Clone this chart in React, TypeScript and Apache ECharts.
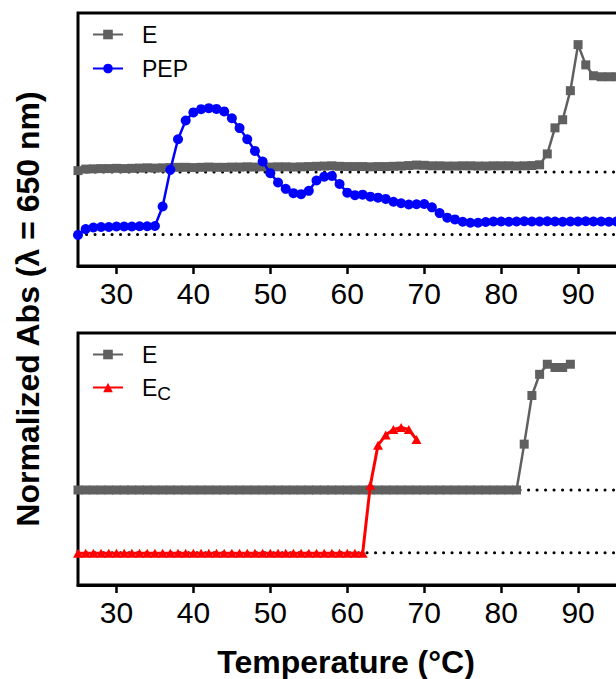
import React, { useEffect, useRef } from "react";
import * as echarts from "echarts";

const FONT = '"Liberation Sans", Arial, Helvetica, sans-serif';

// x ticks and tick labels
const xTicks = [30, 40, 50, 60, 70, 80, 90];
const xTickLabels = [30, 40, 50, 60, 70, 80, 90];
const xRange = [25, 100];

// ---------- Top panel ----------
const tempTop = [
  25, 26, 27, 28, 29, 30, 31, 32, 33, 34, 35, 36, 37, 38, 39, 40, 41, 42, 43, 44, 45, 46, 47, 48,
  49, 50, 51, 52, 53, 54, 55, 56, 57, 58, 59, 60, 61, 62, 63, 64, 65, 66, 67, 68, 69, 70, 71, 72,
  73, 74, 75, 76, 77, 78, 79, 80, 81, 82, 83, 84, 85, 86, 87, 88, 89, 90, 91, 92, 93, 94, 95,
];
const eTop = [
  37.7, 38.3, 38.4, 38.5, 38.5, 38.6, 38.5, 38.6, 38.7, 38.8, 38.7, 38.8, 38.9, 39.0, 39.0, 38.9,
  39.0, 39.1, 39.0, 39.0, 39.1, 39.1, 39.2, 39.1, 39.2, 39.1, 39.2, 39.2, 39.1, 39.2, 39.3, 39.4,
  39.5, 39.6, 39.4, 39.3, 39.3, 39.3, 39.2, 39.3, 39.3, 39.4, 39.5, 39.7, 39.9, 39.8, 39.6, 39.6,
  39.5, 39.5, 39.6, 39.6, 39.5, 39.5, 39.6, 39.6, 39.6, 39.5, 39.6, 39.7, 40.0, 44.3, 54.6, 57.8,
  69.3, 87.5, 79.5, 75.2, 74.8, 74.8, 74.8,
];
const pepTop = [
  12.3, 14.6, 15.2, 15.4, 15.4, 15.6, 15.6, 15.6, 15.7, 15.7, 15.8, 23.5, 38.0, 50.1, 57.5, 60.7,
  62.0, 62.4, 62.1, 61.1, 58.4, 54.5, 50.1, 45.5, 41.3, 36.7, 33.0, 30.5, 28.8, 28.4, 29.7, 33.8,
  35.3, 35.6, 32.4, 29.0, 28.0, 28.2, 27.4, 27.0, 26.5, 25.4, 24.8, 24.3, 24.4, 24.5, 23.2, 20.9,
  19.1, 18.4, 17.5, 17.1, 17.1, 17.4, 17.6, 17.6, 17.5, 17.6, 17.7, 17.6, 17.6, 17.7, 17.6, 17.5,
  17.6, 17.6, 17.7, 17.6, 17.6, 17.5, 17.6,
];
const baseTop = [37.2, 12.5]; // dotted reference levels: E, PEP

// ---------- Bottom panel ----------
const tempBottomE = [
  25, 26, 27, 28, 29, 30, 31, 32, 33, 34, 35, 36, 37, 38, 39, 40, 41, 42, 43, 44, 45, 46, 47, 48,
  49, 50, 51, 52, 53, 54, 55, 56, 57, 58, 59, 60, 61, 62, 63, 64, 65, 66, 67, 68, 69, 70, 71, 72,
  73, 74, 75, 76, 77, 78, 79, 80, 81, 82, 83, 84, 85, 86, 87, 88, 89,
];
const eBottom = [
  37.7, 37.7, 37.7, 37.7, 37.7, 37.7, 37.7, 37.7, 37.7, 37.7, 37.7, 37.7, 37.7, 37.7, 37.7, 37.7,
  37.7, 37.7, 37.7, 37.7, 37.7, 37.7, 37.7, 37.7, 37.7, 37.7, 37.7, 37.7, 37.7, 37.7, 37.7, 37.7,
  37.7, 37.7, 37.7, 37.7, 37.7, 37.7, 37.7, 37.7, 37.7, 37.7, 37.7, 37.7, 37.7, 37.7, 37.7, 37.7,
  37.7, 37.7, 37.7, 37.7, 37.7, 37.7, 37.7, 37.7, 37.7, 37.7, 55.9, 75.2, 83.6, 87.6, 86.3, 86.3,
  87.6,
];
const tempBottomEc = [
  25, 26, 27, 28, 29, 30, 31, 32, 33, 34, 35, 36, 37, 38, 39, 40, 41, 42, 43, 44, 45, 46, 47, 48,
  49, 50, 51, 52, 53, 54, 55, 56, 57, 58, 59, 60, 61, 62, 63, 64, 65, 66, 67, 68, 69,
];
const ecBottom = [
  12.6, 12.6, 12.6, 12.6, 12.6, 12.6, 12.6, 12.6, 12.6, 12.6, 12.6, 12.6, 12.6, 12.6, 12.6, 12.6,
  12.6, 12.6, 12.6, 12.6, 12.6, 12.6, 12.6, 12.6, 12.6, 12.6, 12.6, 12.6, 12.6, 12.6, 12.6, 12.6,
  12.6, 12.6, 12.6, 12.6, 12.6, 12.6, 39.6, 55.5, 59.5, 61.7, 62.5, 61.7, 57.7,
];
const baseBottom = [37.7, 12.8]; // dotted reference levels: E, Ec

const GRAY = "#606060";
const BLUE = "#0000ff";
const RED = "#ff0000";

const zip = (xs: number[], ys: number[]) => xs.map((x, i) => [x, ys[i]]);

function makeXAxis(gridIndex: number) {
  return {
    type: "value",
    gridIndex,
    min: xRange[0],
    max: xRange[1],
    axisLine: { show: true, lineStyle: { color: "#000", width: 3 } },
    axisTick: {
      show: true,
      customValues: xTicks,
      length: 8,
      inside: false,
      lineStyle: { color: "#000", width: 2.5 },
    },
    axisLabel: {
      customValues: xTickLabels,
      fontSize: 30,
      fontFamily: FONT,
      color: "#000",
      margin: 12,
    },
    splitLine: { show: false },
  };
}

function makeYAxis(gridIndex: number) {
  return {
    type: "value",
    gridIndex,
    min: 0,
    max: 100,
    axisLine: { show: false },
    axisTick: { show: false },
    axisLabel: { show: false },
    splitLine: { show: false },
  };
}

function baselineSeries(gi: number, level: number) {
  return {
    type: "line",
    name: "baseline",
    xAxisIndex: gi,
    yAxisIndex: gi,
    data: [
      [xRange[0], level],
      [xRange[1], level],
    ],
    showSymbol: false,
    symbol: "none",
    silent: true,
    z: 1,
    lineStyle: { color: "#000", width: 3, type: [0.1, 8.4], cap: "round" },
  };
}

export default function App() {
  const ref = useRef<HTMLDivElement>(null);

  useEffect(() => {
    if (!ref.current) return;
    const chart = echarts.init(ref.current, undefined, { renderer: "svg" });

    const legendText = {
      fontSize: 23,
      fontFamily: FONT,
      color: "#000",
      padding: [0, 0, 0, 14],
      rich: {
        m: { fontSize: 23, fontFamily: FONT, color: "#000" },
        s: { fontSize: 19, fontFamily: FONT, color: "#000", padding: [12, 0, 0, 0] },
      },
    };

    const option: any = {
      animation: false,
      backgroundColor: "#fff",
      grid: [
        { left: 78, top: 13, width: 577, height: 253, show: true, borderColor: "#000", borderWidth: 3 },
        { left: 78, top: 333, width: 577, height: 252, show: true, borderColor: "#000", borderWidth: 3 },
      ],
      xAxis: [makeXAxis(0), makeXAxis(1)],
      yAxis: [makeYAxis(0), makeYAxis(1)],
      legend: [
        {
          data: ["E", "PEP"],
          orient: "vertical",
          left: 92,
          top: 23,
          padding: 0,
          itemWidth: 30,
          itemHeight: 12,
          itemGap: 11,
          textStyle: legendText,
          selectedMode: false,
        },
        {
          data: ["E", "E_C"],
          orient: "vertical",
          left: 92,
          top: 343,
          padding: 0,
          itemWidth: 30,
          itemHeight: 12,
          itemGap: 10,
          textStyle: legendText,
          selectedMode: false,
          formatter: (n: string) => (n === "E_C" ? "{m|E}{s|C}" : n),
        },
      ],
      graphic: [
        {
          type: "text",
          x: 346,
          y: 662,
          style: {
            text: "Temperature (°C)",
            textAlign: "center",
            textVerticalAlign: "middle",
            font: `bold 32px ${FONT}`,
            fill: "#000",
          },
        },
        {
          type: "text",
          x: 28,
          y: 309,
          rotation: Math.PI / 2,
          style: {
            text: "Normalized Abs (λ = 650 nm)",
            textAlign: "center",
            textVerticalAlign: "middle",
            font: `bold 32px ${FONT}`,
            fill: "#000",
          },
        },
      ],
      series: [
        baselineSeries(0, baseTop[0]),
        baselineSeries(0, baseTop[1]),
        baselineSeries(1, baseBottom[0]),
        baselineSeries(1, baseBottom[1]),
        {
          type: "line",
          name: "E",
          xAxisIndex: 0,
          yAxisIndex: 0,
          data: zip(tempTop, eTop),
          symbol: "rect",
          symbolSize: 9,
          color: GRAY,
          lineStyle: { color: GRAY, width: 2.5 },
          itemStyle: { color: GRAY },
          z: 3,
        },
        {
          type: "line",
          name: "PEP",
          xAxisIndex: 0,
          yAxisIndex: 0,
          data: zip(tempTop, pepTop),
          symbol: "circle",
          symbolSize: 10,
          color: BLUE,
          lineStyle: { color: BLUE, width: 2.5 },
          itemStyle: { color: BLUE },
          z: 4,
        },
        {
          type: "line",
          name: "E",
          xAxisIndex: 1,
          yAxisIndex: 1,
          data: zip(tempBottomE, eBottom),
          symbol: "rect",
          symbolSize: 9,
          color: GRAY,
          lineStyle: { color: GRAY, width: 2.5 },
          itemStyle: { color: GRAY },
          z: 3,
        },
        {
          type: "line",
          name: "E_C",
          xAxisIndex: 1,
          yAxisIndex: 1,
          data: zip(tempBottomEc, ecBottom),
          symbol: "triangle",
          symbolSize: [10, 9],
          color: RED,
          lineStyle: { color: RED, width: 3 },
          itemStyle: { color: RED },
          z: 4,
        },
      ],
    };

    chart.setOption(option);
    return () => chart.dispose();
  }, []);

  return (
    <div
      style={{
        position: "fixed",
        left: 0,
        top: 0,
        width: 616,
        height: 679,
        overflow: "hidden",
        background: "#fff",
      }}
    >
      <div ref={ref} style={{ width: 700, height: 679 }} />
    </div>
  );
}
